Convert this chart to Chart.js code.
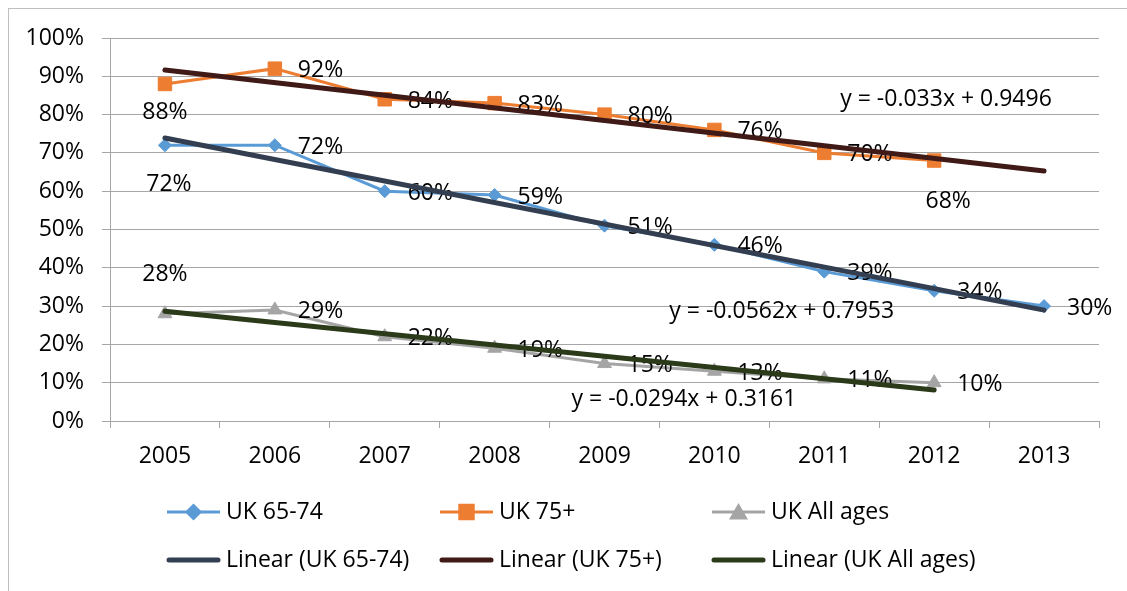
<!DOCTYPE html>
<html>
<head>
<meta charset="utf-8">
<script src="https://cdn.jsdelivr.net/npm/chart.js@4/dist/chart.umd.min.js"></script>
<style>
  html, body { margin: 0; padding: 0; background: #ffffff; }
  #wrap { width: 1127px; height: 591px; position: relative; }
</style>
</head>
<body>
<div id="wrap"><canvas id="c" width="1127" height="591"></canvas></div>
<script>
// ---------- data ----------
const years = ['2005', '2006', '2007', '2008', '2009', '2010', '2011', '2012', '2013'];
const uk6574 = [0.72, 0.72, 0.60, 0.59, 0.51, 0.46, 0.39, 0.34, 0.30];
const uk75plus = [0.88, 0.92, 0.84, 0.83, 0.80, 0.76, 0.70, 0.68, null];
const ukAllAges = [0.28, 0.29, 0.22, 0.19, 0.15, 0.13, 0.11, 0.10, null];
// trendline end values (as shown by the linear trendlines)
const trend6574 = [0.7391, null, null, null, null, null, null, null, 0.2895];
const trend75plus = [0.9166, null, null, null, null, null, null, null, 0.6526];
const trendAllAges = [0.2867, null, null, null, null, null, null, 0.0809, null];
const seriesNames = ['UK 65-74', 'UK 75+', 'UK All ages', 'Linear (UK 65-74)', 'Linear (UK 75+)', 'Linear (UK All ages)'];
const trendEquations = ['y = -0.0562x + 0.7953', 'y = -0.033x + 0.9496', 'y = -0.0294x + 0.3161'];
const yTickValues = [0, 0.1, 0.2, 0.3, 0.4, 0.5, 0.6, 0.7, 0.8, 0.9, 1.0];

// ---------- styles ----------
const FONT = '"Open Sans", "DejaVu Sans", sans-serif';
const FSIZE = 23;
const gridColor = '#a6a6a6';
const colors = ['#5b9bd5', '#ed7d31', '#a5a5a5', '#333f50', '#3f1a17', '#2b3a18'];
// data label placement per series: [dx, dy, align]
const R = [23, 2, 'left'];
const labelPlacement = [
  [[4, 39, 'center'], R, R, R, R, R, R, R, R],
  [[0, 28, 'center'], R, R, R, R, R, R, [14, 41, 'center'], R],
  [[0, -39, 'center'], R, R, R, R, R, R, R, R]
];
// equation anchors in axis coordinates (category index, value)
const equationAnchors = [[4.59, 0.287], [6.145, 0.840], [3.70, 0.055]];

Chart.defaults.font.family = FONT;
Chart.defaults.font.size = FSIZE;
Chart.defaults.color = '#000000';

const pct = v => Math.round(v * 100) + '%';

const labelPlugin = {
  id: 'labels',
  afterDatasetDraw(chart, args) {
    const i = args.index;
    if (i > 2) return;
    const ctx = chart.ctx;
    const meta = chart.getDatasetMeta(i);
    const data = chart.data.datasets[i].data;
    ctx.save();
    ctx.font = FSIZE + 'px ' + FONT;
    ctx.fillStyle = '#000';
    ctx.textBaseline = 'middle';
    meta.data.forEach((pt, j) => {
      if (data[j] === null || data[j] === undefined) return;
      const p = labelPlacement[i][j];
      ctx.textAlign = p[2];
      ctx.fillText(pct(data[j]), pt.x + p[0], pt.y + p[1]);
    });
    ctx.restore();
  },
  afterDraw(chart) {
    const ctx = chart.ctx;
    const xs = chart.scales.x, ys = chart.scales.y;
    ctx.save();
    // outer chart border
    ctx.strokeStyle = '#bfbfbf';
    ctx.lineWidth = 1;
    ctx.strokeRect(8.5, 8.5, 1300, 800);
    // equations
    ctx.font = FSIZE + 'px ' + FONT;
    ctx.fillStyle = '#000';
    ctx.textBaseline = 'middle';
    ctx.textAlign = 'left';
    trendEquations.forEach((t, k) => {
      const a = equationAnchors[k];
      ctx.fillText(t, xs.getPixelForValue(a[0]), ys.getPixelForValue(a[1]));
    });
    // legend
    const cols = [167, 440, 712];
    const rows = [512, 560];
    const ds = chart.data.datasets;
    ds.forEach((d, k) => {
      const x0 = cols[k % 3];
      const y0 = rows[Math.floor(k / 3)];
      ctx.save();
      ctx.strokeStyle = d.borderColor;
      ctx.lineWidth = d.borderWidth;
      ctx.lineCap = k > 2 ? 'round' : 'butt';
      ctx.beginPath();
      ctx.moveTo(x0 + (k > 2 ? 2 : 0), y0);
      ctx.lineTo(x0 + 53 - (k > 2 ? 2 : 0), y0);
      ctx.stroke();
      if (k <= 2) {
        Chart.helpers.drawPoint(ctx, {
          pointStyle: d.pointStyle, radius: d.pointRadius, rotation: 0, borderWidth: 1
        }, x0 + 26.5, y0 + (d.pointStyle === 'triangle' ? 2 : 0));
        ctx.fillStyle = d.backgroundColor;
        ctx.fill();
      }
      ctx.restore();
      ctx.fillStyle = '#000';
      ctx.textAlign = 'left';
      ctx.fillText(d.label, x0 + 59, y0);
    });
    ctx.restore();
  }
};

function seriesDS(k, data, style, radius) {
  return {
    label: seriesNames[k], data: data,
    borderColor: colors[k], backgroundColor: colors[k],
    borderWidth: 3, pointStyle: style, pointRadius: radius, pointHoverRadius: radius,
    pointBorderWidth: 1, pointBackgroundColor: colors[k], pointBorderColor: colors[k],
    tension: 0, order: 2, spanGaps: false
  };
}
function trendDS(k, data) {
  return {
    label: seriesNames[k], data: data,
    borderColor: colors[k], backgroundColor: colors[k],
    borderWidth: 5, pointRadius: 0, pointHoverRadius: 0,
    borderCapStyle: 'round', spanGaps: true, tension: 0, order: 1
  };
}

new Chart(document.getElementById('c'), {
  type: 'line',
  data: {
    labels: years,
    datasets: [
      seriesDS(0, uk6574, 'rectRot', 6.5),
      seriesDS(1, uk75plus, 'rect', 9.5),
      seriesDS(2, ukAllAges, 'triangle', 8),
      trendDS(3, trend6574),
      trendDS(4, trend75plus),
      trendDS(5, trendAllAges)
    ]
  },
  options: {
    responsive: false,
    animation: false,
    events: [],
    layout: { padding: { top: 38, right: 28, left: 0, bottom: 0 } },
    plugins: { legend: { display: false }, tooltip: { enabled: false } },
    scales: {
      x: {
        offset: true,
        grid: { offset: true, drawOnChartArea: false, drawTicks: true, tickLength: 7, color: gridColor, lineWidth: 1 },
        border: { color: gridColor, width: 1 },
        ticks: { padding: 15, color: '#000', font: { size: FSIZE }, maxRotation: 0, autoSkip: false },
        afterFit(scale) { scale.height = 170; }
      },
      y: {
        min: 0, max: 1,
        afterBuildTicks(scale) { scale.ticks = yTickValues.map(v => ({ value: v })); },
        grid: { drawTicks: true, tickLength: 8, color: gridColor, lineWidth: 1 },
        border: { color: gridColor, width: 1 },
        ticks: { padding: 18, color: '#000', font: { size: FSIZE }, callback: v => pct(v) },
        afterFit(scale) { scale.width = 110; }
      }
    }
  },
  plugins: [labelPlugin]
});
</script>
</body>
</html>
